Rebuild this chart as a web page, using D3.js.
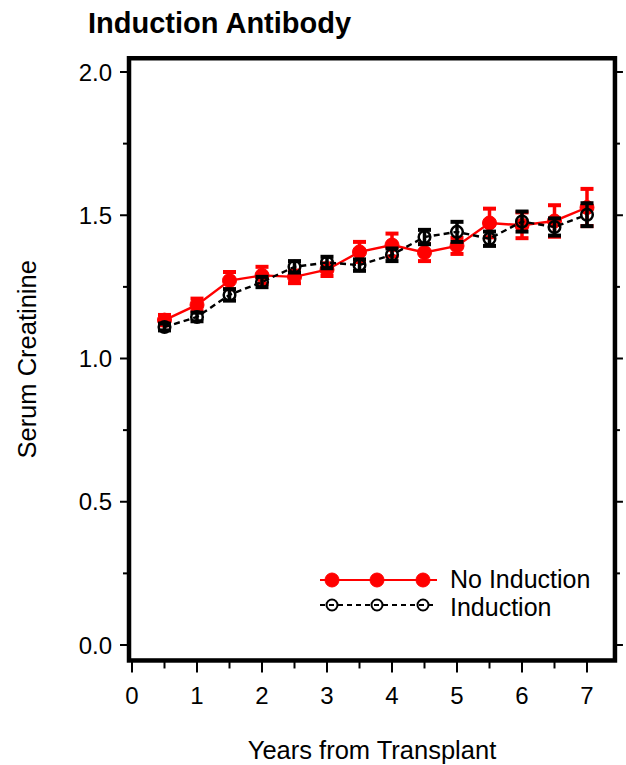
<!DOCTYPE html>
<html><head><meta charset="utf-8">
<script src="https://cdn.jsdelivr.net/npm/d3@7"></script>
<style>body{margin:0;background:#fff}</style>
</head><body>
<svg id="c" width="626" height="765"></svg>
<script>
const years = [0.5,1,1.5,2,2.5,3,3.5,4,4.5,5,5.5,6,6.5,7];
const noInduction = [1.134,1.187,1.272,1.290,1.285,1.310,1.372,1.396,1.370,1.393,1.473,1.465,1.480,1.527];
const noInductionErr = [0.018,0.022,0.03,0.03,0.022,0.022,0.035,0.04,0.03,0.028,0.05,0.045,0.055,0.065];
const induction = [1.110,1.145,1.222,1.267,1.320,1.335,1.326,1.362,1.424,1.442,1.418,1.478,1.459,1.502];
const inductionErr = [0.012,0.015,0.02,0.018,0.02,0.02,0.02,0.022,0.025,0.035,0.025,0.035,0.03,0.04];
const xTicks = [0,1,2,3,4,5,6,7];
const xMinor = [0.5,1.5,2.5,3.5,4.5,5.5,6.5];
const yTicks = [0,0.5,1.0,1.5,2.0];
const yMinor = [0.25,0.75,1.25,1.75];
const legendLabels = ["No Induction","Induction"];

const svg = d3.select("#c");
const font = "Liberation Sans, Arial, sans-serif";
const x = d3.scaleLinear().domain([0,7]).range([132,587]);
const y = d3.scaleLinear().domain([0,2]).range([645,72]);
const L = x(-0.046), R = x(7.43), T = y(2.048), B = y(-0.054);

// title
svg.append("text").attr("x",88).attr("y",33).attr("font-family",font)
  .attr("font-weight","bold").attr("font-size",29).text("Induction Antibody");

// ticks
const g = svg.append("g").attr("stroke","#000").attr("stroke-width",2);
yTicks.forEach(v=>{
  g.append("line").attr("x1",L-9).attr("x2",L).attr("y1",y(v)).attr("y2",y(v));
  g.append("line").attr("x1",R).attr("x2",R+8).attr("y1",y(v)).attr("y2",y(v));
});
yMinor.forEach(v=>{
  g.append("line").attr("x1",L-6).attr("x2",L).attr("y1",y(v)).attr("y2",y(v));
  g.append("line").attr("x1",R).attr("x2",R+5).attr("y1",y(v)).attr("y2",y(v));
});
xTicks.forEach(v=>{
  g.append("line").attr("x1",x(v)).attr("x2",x(v)).attr("y1",B).attr("y2",B+12);
});
xMinor.forEach(v=>{
  g.append("line").attr("x1",x(v)).attr("x2",x(v)).attr("y1",B).attr("y2",B+8);
});
// frame
svg.append("rect").attr("x",L).attr("y",T).attr("width",R-L).attr("height",B-T)
  .attr("fill","none").attr("stroke","#000").attr("stroke-width",4.5);

// tick labels
svg.append("g").selectAll("text").data(yTicks).join("text")
  .attr("x",L-17).attr("y",d=>y(d)).attr("dy","0.36em").attr("text-anchor","end")
  .attr("font-family",font).attr("font-size",24).text(d=>d.toFixed(1));
svg.append("g").selectAll("text").data(xTicks).join("text")
  .attr("x",d=>x(d)).attr("y",704).attr("text-anchor","middle")
  .attr("font-family",font).attr("font-size",24).text(d=>d);

// axis labels
svg.append("text").attr("x",(L+R)/2).attr("y",759).attr("text-anchor","middle")
  .attr("font-family",font).attr("font-size",25.5).text("Years from Transplant");
svg.append("text").attr("transform",`translate(36,${(T+B)/2}) rotate(-90)`)
  .attr("text-anchor","middle").attr("font-family",font).attr("font-size",25.5).text("Serum Creatinine");

function series(vals, errs, color, dashed, filled){
  const pts = years.map((t,i)=>({t, v:vals[i], e:errs[i]}));
  const gs = svg.append("g");
  gs.append("path").datum(pts)
    .attr("d", d3.line().x(d=>x(d.t)).y(d=>y(d.v)))
    .attr("fill","none").attr("stroke",color).attr("stroke-width",2.4)
    .attr("stroke-dasharray", dashed ? "6,4" : null);
  const eb = gs.append("g").attr("stroke",color).attr("stroke-width",3.5);
  eb.selectAll("line.v").data(pts).join("line").attr("class","v")
    .attr("x1",d=>x(d.t)).attr("x2",d=>x(d.t)).attr("y1",d=>y(d.v-d.e)).attr("y2",d=>y(d.v+d.e));
  const cap = eb.append("g").attr("stroke-width",4);
  cap.selectAll("line.t").data(pts).join("line").attr("class","t")
    .attr("x1",d=>x(d.t)-6.5).attr("x2",d=>x(d.t)+6.5).attr("y1",d=>y(d.v+d.e)).attr("y2",d=>y(d.v+d.e));
  cap.selectAll("line.b").data(pts).join("line").attr("class","b")
    .attr("x1",d=>x(d.t)-6.5).attr("x2",d=>x(d.t)+6.5).attr("y1",d=>y(d.v-d.e)).attr("y2",d=>y(d.v-d.e));
  gs.selectAll("circle").data(pts).join("circle")
    .attr("cx",d=>x(d.t)).attr("cy",d=>y(d.v)).attr("r", filled?7:5.8)
    .attr("fill", filled?color:"none").attr("stroke",color).attr("stroke-width", filled?1:2.5);
}
series(noInduction, noInductionErr, "#ff0000", false, true);
series(induction, inductionErr, "#000000", true, false);

// legend
const leg = svg.append("g");
const lx = [332,377,423];
[["#ff0000",false,true,580],["#000000",true,false,605]].forEach((s,i)=>{
  const [col,dash,fill,ly] = s;
  leg.append("line").attr("x1",320).attr("x2",437).attr("y1",ly).attr("y2",ly)
    .attr("stroke",col).attr("stroke-width",2).attr("stroke-dasharray",dash?"5,4":null);
  lx.forEach(cx=>leg.append("circle").attr("cx",cx).attr("cy",ly).attr("r",fill?7:5.5)
    .attr("fill","none").attr("stroke",col).attr("stroke-width",fill?1:2)
    .attr("fill",fill?col:"none"));
  leg.append("text").attr("x",450).attr("y",i===0?588:616)
    .attr("font-family",font).attr("font-size",25).text(legendLabels[i]);
});
</script>
</body></html>
